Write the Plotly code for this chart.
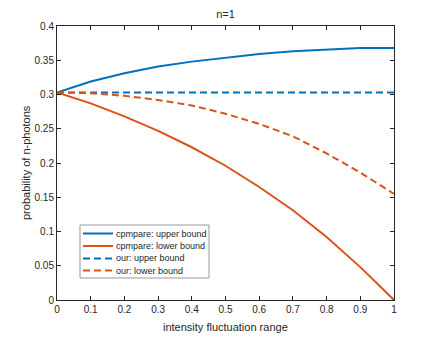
import plotly.graph_objects as go

BLUE = "#0072BD"
ORANGE = "#D95319"
AXIS = "#262626"
DASH = "7px,4px"

x_range = [0, 0.1, 0.2, 0.3, 0.4, 0.5, 0.6, 0.7, 0.8, 0.9, 1.0]
compare_upper = [0.303, 0.319, 0.331, 0.341, 0.348, 0.354, 0.359, 0.363, 0.366, 0.368, 0.368]
compare_lower = [0.303, 0.287, 0.268, 0.247, 0.223, 0.196, 0.165, 0.131, 0.092, 0.048, 0.0]
our_upper = [0.303] * len(x_range)
our_lower = [0.303, 0.302, 0.298, 0.292, 0.284, 0.272, 0.257, 0.239, 0.214, 0.186, 0.155]

x_ticks = [0, 0.1, 0.2, 0.3, 0.4, 0.5, 0.6, 0.7, 0.8, 0.9, 1]
x_ticklabels = ["0", "0.1", "0.2", "0.3", "0.4", "0.5", "0.6", "0.7", "0.8", "0.9", "1"]
y_ticks = [0, 0.05, 0.1, 0.15, 0.2, 0.25, 0.3, 0.35, 0.4]
y_ticklabels = ["0", "0.05", "0.1", "0.15", "0.2", "0.25", "0.3", "0.35", "0.4"]

series = [
    ("cpmpare: upper bound", compare_upper, BLUE, "solid"),
    ("cpmpare: lower bound", compare_lower, ORANGE, "solid"),
    ("our: upper bound", our_upper, BLUE, DASH),
    ("our: lower bound", our_lower, ORANGE, DASH),
]

fig = go.Figure()
for name, ys, color, dash in series:
    fig.add_trace(go.Scatter(x=x_range, y=ys, mode="lines", name=name,
                             line=dict(color=color, width=2, dash=dash)))

# page has an 8px body margin, so figure coords = screen coords - 8
OFF = 8
L, R, T, B = 57 - OFF, 394 - OFF, 26 - OFF, 300 - OFF
W, H = 436 - OFF, 338 - OFF

def px_x(p):
    return (p - OFF - L) / (R - L)

def px_y(p):
    return (B - (p - OFF)) / (B - T)

# legend drawn by hand, MATLAB style (compact rows)
fig.add_shape(type="rect", xref="paper", yref="paper",
              x0=px_x(80), x1=px_x(209), y0=px_y(278), y1=px_y(225),
              line=dict(color="#9A9A9A", width=1), fillcolor="white", layer="above")
row_y = [233.5, 246, 258.5, 270.5]
for (name, ys, color, dash), ry in zip(series, row_y):
    fig.add_shape(type="line", xref="paper", yref="paper",
                  x0=px_x(83), x1=px_x(113), y0=px_y(ry), y1=px_y(ry),
                  line=dict(color=color, width=2, dash=dash), layer="above")
    fig.add_annotation(text=name, xref="paper", yref="paper", x=px_x(114), y=px_y(ry),
                       xanchor="left", yanchor="middle", showarrow=False,
                       font=dict(size=9, color=AXIS))

# axis titles
fig.add_annotation(text="intensity fluctuation range", xref="paper", yref="paper",
                   x=0.5, y=px_y(327), xanchor="center", yanchor="middle", showarrow=False,
                   font=dict(size=11, color=AXIS))
fig.add_annotation(text="probability of n-photons", xref="paper", yref="paper",
                   x=px_x(26), y=0.5, xanchor="center", yanchor="middle", textangle=-90,
                   showarrow=False, font=dict(size=11, color=AXIS))

axis_style = dict(showgrid=False, zeroline=False, showline=True, linecolor=AXIS, linewidth=1,
                  mirror="ticks", ticks="inside", ticklen=4, tickcolor=AXIS, automargin=False,
                  tickfont=dict(size=10, color=AXIS))

fig.update_layout(
    width=W, height=H,
    font=dict(family="Liberation Sans, Arial", color=AXIS),
    title=dict(text="n=1", x=(L + R) / 2 / W, xanchor="center", y=1 - (14 - OFF) / H, yanchor="middle",
               font=dict(size=11, color=AXIS)),
    plot_bgcolor="white", paper_bgcolor="white",
    margin=dict(l=L, r=W - R, t=T, b=H - B),
    xaxis=dict(axis_style, range=[0, 1], tickvals=x_ticks, ticktext=x_ticklabels),
    yaxis=dict(axis_style, range=[0, 0.4], tickvals=y_ticks, ticktext=y_ticklabels),
    showlegend=False,
)

fig.write_html("out.html")
